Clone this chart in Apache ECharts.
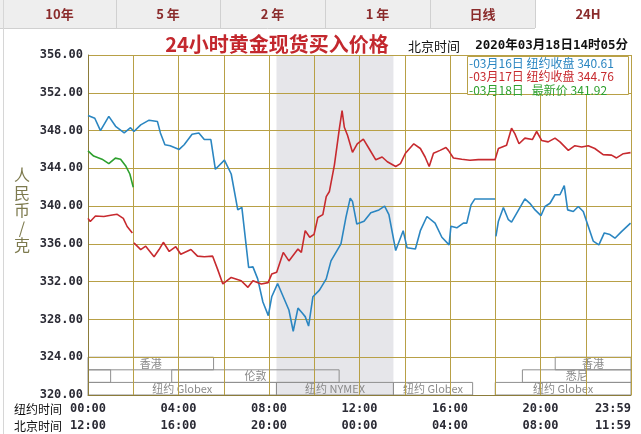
<!DOCTYPE html>
<html><head><meta charset="utf-8">
<script src="https://cdn.jsdelivr.net/npm/echarts@6/dist/echarts.min.js"></script>
<style>html,body{margin:0;padding:0;background:#fff}#c{width:641px;height:434px}</style>
</head><body><div id="c"></div>
<script>
// ---- data ----
const tabLabels = ['10年', '5 年', '2 年', '1 年', '日线', '24H'];
const titleText = '24小时黄金现货买入价格';
const timeLabel = '北京时间';
const dateText = '2020年03月18日14时05分';
const legendTexts = ['-03月16日 纽约收盘 340.61', '-03月17日 纽约收盘 344.76', '-03月18日   最新价 341.92'];
const yName = '人民币/克';
const rowNames = ['纽约时间', '北京时间'];

// New York time in hours
const blueT = [0.00,0.30,0.55,0.92,1.22,1.60,1.88,2.03,2.33,2.70,3.07,3.20,3.40,3.63,4.03,4.25,4.60,4.90,5.14,5.43,5.63,6.03,6.33,6.62,6.80,7.10,7.29,7.50,7.73,7.97,8.12,8.38,8.63,8.88,9.07,9.28,9.46,9.60,9.75,9.94,10.23,10.53,10.74,10.96,11.18,11.40,11.59,11.69,11.88,12.20,12.50,12.86,13.11,13.30,13.60,13.93,14.10,14.47,14.69,14.98,15.34,15.64,15.96,16.04,16.30,16.59,16.74,16.93,17.10,17.99,18.01,18.03,18.14,18.36,18.58,18.72,18.95,19.31,19.53,19.76,20.02,20.20,20.42,20.64,20.86,21.05,21.20,21.45,21.67,21.89,22.11,22.33,22.58,22.82,23.07,23.29,23.58,23.98];
const blueV = [349.6,349.3,348.0,349.5,348.45,347.75,348.3,347.9,348.6,349.1,348.95,347.75,346.5,346.4,346.0,346.5,347.6,347.75,347.05,347.05,343.9,344.87,343.4,339.6,339.86,333.5,333.57,332.3,329.85,328.4,330.4,331.8,330.4,329.0,326.75,329.2,328.7,328.3,327.3,330.4,331.1,332.3,334.2,335.1,336.0,338.8,340.85,340.5,338.1,338.4,339.3,339.6,340.0,339.1,335.3,337.4,335.6,335.45,337.4,338.9,338.2,336.7,335.9,337.86,337.7,338.2,338.2,340.13,340.76,340.76,null,336.8,338.4,339.85,338.56,338.3,339.26,340.76,340.3,339.6,339.0,339.96,340.3,341.2,341.2,342.16,339.6,339.43,339.96,339.43,337.86,336.3,335.9,337.16,336.99,336.6,337.3,338.2];

const redT = [0.00,0.10,0.33,0.70,1.07,1.29,1.56,1.73,1.96,2.00,2.03,2.33,2.55,2.92,3.14,3.33,3.59,3.88,4.10,4.55,4.84,5.14,5.51,5.73,5.96,6.33,6.77,7.07,7.29,7.66,7.96,8.12,8.34,8.63,8.88,9.28,9.43,9.60,9.80,9.99,10.16,10.38,10.53,10.67,10.89,11.11,11.23,11.33,11.47,11.69,11.90,12.17,12.42,12.72,13.00,13.23,13.60,13.81,14.03,14.40,14.69,14.90,15.08,15.27,15.56,15.82,15.93,16.15,16.52,16.88,17.25,17.99,18.14,18.50,18.72,18.87,19.05,19.31,19.64,19.83,20.05,20.34,20.64,20.86,21.23,21.52,21.82,22.11,22.40,22.77,23.14,23.36,23.66,23.98];
const redV = [338.7,338.37,338.96,338.9,339.06,339.13,338.7,337.84,337.15,null,336.1,335.4,335.76,334.64,335.4,336.17,335.2,335.7,334.9,335.4,334.7,334.64,334.7,333.3,331.76,332.45,332.1,331.4,332.1,331.76,331.9,332.8,333.0,335.1,334.2,335.45,335.1,337.4,336.7,337.0,338.8,339.1,341.0,341.55,344.35,348.2,350.1,348.35,347.5,345.7,346.6,347.1,346.1,344.9,345.2,344.7,344.2,344.5,345.6,346.6,346.1,345.2,344.2,345.6,345.9,346.2,345.9,345.1,344.96,344.85,344.92,344.92,346.1,346.45,348.25,347.65,346.6,347.2,347.05,347.9,346.95,346.8,347.2,346.8,345.9,346.4,346.25,346.4,346.1,345.45,345.4,345.1,345.55,345.66];

const greenT = [0.00,0.25,0.62,0.92,1.21,1.44,1.66,1.85,2.00];
const greenV = [345.84,345.3,344.97,344.5,345.08,344.97,344.28,343.4,342.0];

// NYMEX band (NY hours)
const bandRange = [8.33, 13.5];

// trading sessions at the bottom (NY hours, row 0 = top)
const sessionNames = ['香港', '', '伦敦', '纽约 Globex', '纽约 NYMEX', '纽约 Globex', '悉尼', '纽约 Globex', '香港'];
const sessionStart = [0, 0, 3.7, 0, 8.33, 13.5, 19.2, 18.0, 20.65];
const sessionEnd   = [5.55, 1.0, 11.1, 8.33, 13.5, 17.0, 24, 24, 24];
const sessionRow   = [0, 1, 1, 2, 2, 2, 1, 2, 0];

// ---- build ----
const gridColor = '#b8a046';
const zip = (t, v) => t.map((x, i) => [x, v[i]]);
const rowTop = r => 324 - r * 4 / 3;
const sessionAreas = sessionNames.map((n, i) => [
  { xAxis: sessionStart[i], yAxis: rowTop(sessionRow[i]), name: n },
  { xAxis: sessionEnd[i], yAxis: rowTop(sessionRow[i] + 1) }
]);
const pad = n => String(n).padStart(2, '0');
const fmtX = v => {
  if (v % 4 !== 0 && v !== 24) return '';
  if (v === 24) return '23:59\n11:59';
  return pad(v) + ':00\n' + pad((v + 12) % 24) + ':00';
};

const chart = echarts.init(document.getElementById('c'), null, { renderer: 'canvas' });
const mono = 'DejaVu Sans Mono, Noto Sans CJK SC, monospace';
const cjk = 'Noto Sans CJK SC, sans-serif';

const tabW = [3, 116, 220, 325, 430, 535, 641];
const graphics = [];
graphics.push({ type: 'rect', shape: { x: 0, y: 0, width: 641, height: 28 }, style: { fill: '#eeeeee' }, z: 1 });
graphics.push({ type: 'rect', shape: { x: tabW[5], y: 0, width: 641 - tabW[5], height: 29 }, style: { fill: '#ffffff' }, z: 2 });
graphics.push({ type: 'line', shape: { x1: 0, y1: 28.5, x2: tabW[5], y2: 28.5 }, style: { stroke: '#d0d0d0', lineWidth: 1 }, z: 3 });
graphics.push({ type: 'line', shape: { x1: 3.5, y1: 0, x2: 3.5, y2: 434 }, style: { stroke: '#d6d6d6', lineWidth: 1 }, z: 3 });
for (let i = 1; i < 6; i++) {
  graphics.push({ type: 'line', shape: { x1: tabW[i] + 0.5, y1: 0, x2: tabW[i] + 0.5, y2: 28 }, style: { stroke: '#d0d0d0', lineWidth: 1 }, z: 3 });
}
tabLabels.forEach((t, i) => {
  graphics.push({ type: 'text', x: (tabW[i] + tabW[i + 1]) / 2, y: 14, z: 4,
    style: { text: t, fill: '#8a2b2b', font: 'bold 13px ' + cjk, textAlign: 'center', textVerticalAlign: 'middle' } });
});
graphics.push({ type: 'text', x: 277, y: 44, z: 4,
  style: { text: titleText, fill: '#c3282e', font: 'bold 20px ' + cjk, textAlign: 'center', textVerticalAlign: 'middle' } });
graphics.push({ type: 'text', x: 408, y: 46, z: 4,
  style: { text: timeLabel, fill: '#111', font: '13px ' + cjk, textAlign: 'left', textVerticalAlign: 'middle' } });
graphics.push({ type: 'text', x: 628, y: 46, z: 4,
  style: { text: dateText, fill: '#111', font: 'bold 12.5px ' + mono, textAlign: 'right', textVerticalAlign: 'middle' } });
graphics.push({ type: 'rect', shape: { x: 467.5, y: 56.5, width: 161, height: 38 }, style: { fill: '#fff', stroke: gridColor, lineWidth: 1 }, z: 50 });
const legendColors = ['#2b86c1', '#c72a2f', '#2ea02e'];
legendTexts.forEach((t, i) => {
  graphics.push({ type: 'text', x: 469, y: 63 + i * 13.5, z: 51,
    style: { text: t, fill: legendColors[i], font: '12px ' + cjk, textAlign: 'left', textVerticalAlign: 'middle' } });
});
graphics.push({ type: 'text', x: 22, y: 210, z: 4,
  style: { text: yName.split('').join('\n'), fill: '#7d7a4e', font: '16px ' + cjk, lineHeight: 17.5, textAlign: 'center', textVerticalAlign: 'middle' } });
rowNames.forEach((t, i) => {
  graphics.push({ type: 'text', x: 14, y: 409 + i * 17, z: 4,
    style: { text: t, fill: '#111', font: '12px ' + cjk, textAlign: 'left', textVerticalAlign: 'middle' } });
});

const lineSeries = (name, t, v, color) => ({
  name, type: 'line', data: zip(t, v), showSymbol: false, symbol: 'none', z: 10,
  lineStyle: { color, width: 1.6 }, connectNulls: false, animation: false
});

chart.setOption({
  animation: false,
  backgroundColor: '#fff',
  grid: { left: 88, right: 10, top: 55, bottom: 36, containLabel: false },
  xAxis: {
    type: 'value', min: 0, max: 24, interval: 2, z: 5,
    axisLine: { show: true, lineStyle: { color: '#8c7c3a', width: 1 } },
    axisTick: { show: false },
    splitLine: { show: true, lineStyle: { color: gridColor, width: 1 } },
    axisLabel: { formatter: fmtX, color: '#2b2b35', fontFamily: mono, fontWeight: 'bold', fontSize: 12, lineHeight: 17, margin: 5, alignMaxLabel: 'right', alignMinLabel: 'center', showMinLabel: true, showMaxLabel: true }
  },
  yAxis: {
    type: 'value', min: 320, max: 356, interval: 4, z: 5,
    axisLine: { show: true, lineStyle: { color: '#8c7c3a', width: 1 } },
    axisTick: { show: false },
    splitLine: { show: true, lineStyle: { color: gridColor, width: 1 } },
    axisLabel: { formatter: v => v.toFixed(2), color: '#2b2b35', fontFamily: mono, fontWeight: 'bold', fontSize: 12, margin: 5 }
  },
  graphic: graphics,
  series: [
    { type: 'line', data: [], z: 1, silent: true,
      markArea: { silent: true, itemStyle: { color: '#e6e6ea' }, data: [[{ xAxis: bandRange[0] }, { xAxis: bandRange[1] }]] } },
    { type: 'line', data: [], z: 6, silent: true,
      markArea: { silent: true, itemStyle: { color: 'rgba(0,0,0,0)', borderColor: '#8f8f8f', borderWidth: 1 },
        label: { show: true, position: 'inside', color: '#8a8a8a', fontSize: 11, fontFamily: cjk },
        data: sessionAreas } },
    lineSeries('03月16日', blueT, blueV, legendColors[0]),
    lineSeries('03月17日', redT, redV, legendColors[1]),
    lineSeries('03月18日', greenT, greenV, legendColors[2])
  ]
});
</script></body></html>
